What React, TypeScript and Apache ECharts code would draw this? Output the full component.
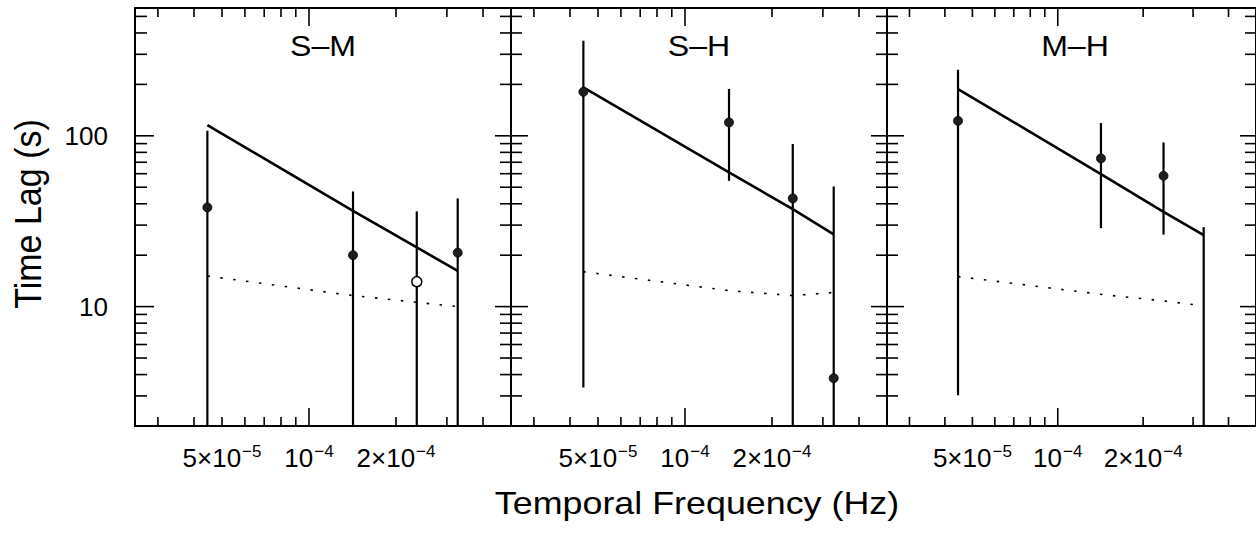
import React, { useEffect, useRef } from "react";
import * as echarts from "echarts";

// ---------- data ----------
const FREQ = [4.45e-5, 1.42e-4, 2.36e-4, 3.27e-4]; // Hz

const PANEL_NAMES = ["S–M", "S–H", "M–H"];

// S–M
const SM_LAG = [38.1, 20.0, 14.0, 20.7];
const SM_OPEN = [false, false, true, false];
const SM_LO = [1, 1, 1, 1]; // lower ends fall below the axis
const SM_HI = [107, 47.2, 36.1, 43.0];
const SM_MODEL = [115.5, 36.4, 22.2, 16.2];
const SM_DOT = [15.1, 11.6, 10.6, 10.0];

// S–H
const SH_LAG = [181, 119.8, 43.0, 3.81];
const SH_OPEN = [false, false, false, false];
const SH_LO = [3.36, 54.5, 1, 1];
const SH_HI = [360, 188, 89.4, 50.5];
const SH_MODEL = [192, 61.1, 37.2, 26.5];
const SH_DOT = [16.0, 12.4, 11.6, 12.1];

// M–H
const MH_LAG = [122.4, 73.7, 58.3, null];
const MH_OPEN = [false, false, false, false];
const MH_LO = [3.03, 28.8, 26.4, 1];
const MH_HI = [244, 118.7, 91.4, 29.2];
const MH_MODEL = [187.8, 59.7, 35.9, 26.2];
const MH_DOT = [15.0, 11.8, 10.8, 10.1];

// axes
const X_MIN = 2.5e-5;
const X_MAX = 5e-4;
const Y_MIN = 2;
const Y_MAX = 560;
const X_LABEL_VALUES = [5e-5, 1e-4, 2e-4];
const X_LABEL_MANT = ["5×10", "10", "2×10"];
const X_LABEL_EXP = ["−5", "−4", "−4"];
const Y_LABEL_VALUES = [10, 100];
const X_MINOR_TICKS = [3e-5, 4e-5, 5e-5, 6e-5, 7e-5, 8e-5, 9e-5, 2e-4, 3e-4, 4e-4];
const X_MAJOR_TICKS = [1e-4];
const Y_MINOR_TICKS = [3, 4, 5, 6, 7, 8, 9, 20, 30, 40, 50, 60, 70, 80, 90, 200, 300, 400, 500];
const Y_MAJOR_TICKS = [10, 100];

const PANELS = [
  { lag: SM_LAG, open: SM_OPEN, lo: SM_LO, hi: SM_HI, model: SM_MODEL, dot: SM_DOT },
  { lag: SH_LAG, open: SH_OPEN, lo: SH_LO, hi: SH_HI, model: SH_MODEL, dot: SH_DOT },
  { lag: MH_LAG, open: MH_OPEN, lo: MH_LO, hi: MH_HI, model: MH_MODEL, dot: MH_DOT },
];

const FONT = '"Liberation Sans", Arial, Helvetica, sans-serif';
const GRID_LEFT = 135;
const GRID_W = 376;
const GRID_TOP = 8;
const GRID_H = 418;

function buildOption() {
  const grid: any[] = [];
  const xAxis: any[] = [];
  const yAxis: any[] = [];
  const series: any[] = [];
  const graphic: any[] = [];

  PANELS.forEach((p, i) => {
    grid.push({
      left: GRID_LEFT + GRID_W * i,
      top: GRID_TOP,
      width: GRID_W + (i === 2 ? 1 : 0),
      height: GRID_H,
      show: true,
      borderColor: "#000",
      borderWidth: 2,
      backgroundColor: "transparent",
    });
    xAxis.push({
      type: "log",
      logBase: 10,
      gridIndex: i,
      min: X_MIN,
      max: X_MAX,
      axisLine: { show: false },
      axisTick: { show: false },
      splitLine: { show: false },
      axisLabel: {
        show: true,
        customValues: X_LABEL_VALUES,
        margin: 17,
        formatter: (v: number) => {
          const k = X_LABEL_VALUES.findIndex((x) => Math.abs(x - v) / x < 1e-4);
          if (k < 0) return "";
          return `{b|${X_LABEL_MANT[k]}}{s|${X_LABEL_EXP[k]}}`;
        },
        rich: {
          b: { fontSize: 26, fontFamily: FONT, color: "#000", lineHeight: 30 },
          s: { fontSize: 17, fontFamily: FONT, color: "#000", lineHeight: 18, verticalAlign: "top", padding: [0, 0, 0, 1] },
        },
      },
    });
    yAxis.push({
      type: "log",
      logBase: 10,
      gridIndex: i,
      min: Y_MIN,
      max: Y_MAX,
      axisLine: { show: false },
      axisTick: { show: false },
      splitLine: { show: false },
      axisLabel: {
        show: i === 0,
        customValues: Y_LABEL_VALUES,
        margin: 27,
        fontSize: 26,
        fontFamily: FONT,
        color: "#000",
        formatter: (v: number) => String(Math.round(v)),
      },
    });

    // x tick marks (bottom & top)
    series.push({
      type: "custom",
      xAxisIndex: i,
      yAxisIndex: i,
      silent: true,
      z: 5,
      data: [
        ...X_MINOR_TICKS.map((v) => [v, Y_MIN, 0]),
        ...X_MAJOR_TICKS.map((v) => [v, Y_MIN, 1]),
      ],
      encode: { x: 0, y: 1 },
      renderItem: (params: any, api: any) => {
        const cs = params.coordSys;
        const pt = api.coord([api.value(0), Y_MIN]);
        const len = api.value(2) ? 18 : 9;
        const st = { stroke: "#000", lineWidth: 1.6 };
        return {
          type: "group",
          children: [
            { type: "line", shape: { x1: pt[0], y1: cs.y + cs.height, x2: pt[0], y2: cs.y + cs.height - len }, style: st },
            { type: "line", shape: { x1: pt[0], y1: cs.y, x2: pt[0], y2: cs.y + len }, style: st },
          ],
        };
      },
    });
    // y tick marks (left & right)
    series.push({
      type: "custom",
      xAxisIndex: i,
      yAxisIndex: i,
      silent: true,
      z: 5,
      data: [
        ...Y_MINOR_TICKS.map((v) => [X_MIN, v, 0]),
        ...Y_MAJOR_TICKS.map((v) => [X_MIN, v, 1]),
      ],
      encode: { x: 0, y: 1 },
      renderItem: (params: any, api: any) => {
        const cs = params.coordSys;
        const pt = api.coord([X_MIN, api.value(1)]);
        const major = api.value(2);
        const lenL = major ? (i === 0 ? 19 : 17) : (i === 0 ? 12 : 11);
        const lenR = major ? 16 : 11;
        const st = { stroke: "#000", lineWidth: 1.6 };
        return {
          type: "group",
          children: [
            { type: "line", shape: { x1: cs.x, y1: pt[1], x2: cs.x + lenL, y2: pt[1] }, style: st },
            { type: "line", shape: { x1: cs.x + cs.width, y1: pt[1], x2: cs.x + cs.width - lenR, y2: pt[1] }, style: st },
          ],
        };
      },
    });
    // error bars
    series.push({
      type: "custom",
      xAxisIndex: i,
      yAxisIndex: i,
      silent: true,
      z: 3,
      data: FREQ.map((f, k) => [f, p.lo[k], p.hi[k]]),
      encode: { x: 0, y: [1, 2] },
      renderItem: (params: any, api: any) => {
        const f = api.value(0);
        const lo = Math.max(api.value(1), Y_MIN);
        const hi = Math.min(api.value(2), Y_MAX);
        const a = api.coord([f, lo]);
        const b = api.coord([f, hi]);
        return {
          type: "line",
          shape: { x1: a[0], y1: a[1], x2: b[0], y2: b[1] },
          style: { stroke: "#000", lineWidth: 2.2 },
        };
      },
    });
    // model (solid)
    series.push({
      type: "line",
      xAxisIndex: i,
      yAxisIndex: i,
      silent: true,
      z: 4,
      showSymbol: false,
      symbol: "none",
      data: FREQ.map((f, k) => [f, p.model[k]]),
      lineStyle: { color: "#000", width: 2.6 },
    });
    // model (dotted)
    series.push({
      type: "line",
      xAxisIndex: i,
      yAxisIndex: i,
      silent: true,
      z: 4,
      showSymbol: false,
      symbol: "none",
      data: FREQ.map((f, k) => [f, p.dot[k]]),
      lineStyle: { color: "#000", width: 1.6, type: [2.5, 10.5] },
    });
    // filled markers
    series.push({
      type: "scatter",
      xAxisIndex: i,
      yAxisIndex: i,
      silent: true,
      z: 6,
      symbol: "circle",
      symbolSize: 9,
      itemStyle: { color: "#1e1e1e", borderColor: "#000", borderWidth: 0.8, opacity: 1 },
      data: FREQ.map((f, k) => [f, p.lag[k], p.open[k]]).filter((d) => d[1] != null && !d[2]).map((d) => [d[0], d[1]]),
    });
    // open markers
    series.push({
      type: "scatter",
      xAxisIndex: i,
      yAxisIndex: i,
      silent: true,
      z: 6,
      symbol: "circle",
      symbolSize: 10,
      itemStyle: { color: "#fff", borderColor: "#000", borderWidth: 1.5, opacity: 1 },
      data: FREQ.map((f, k) => [f, p.lag[k], p.open[k]]).filter((d) => d[1] != null && d[2]).map((d) => [d[0], d[1]]),
    });

    graphic.push({
      type: "text",
      x: GRID_LEFT + GRID_W * i + GRID_W / 2,
      y: 46,
      scaleX: 1.07,
      silent: true,
      style: {
        text: PANEL_NAMES[i],
        font: `30px ${FONT}`,
        fill: "#000",
        align: "center",
        verticalAlign: "middle",
        textAlign: "center",
        textVerticalAlign: "middle",
      },
    });
  });

  graphic.push({
    type: "text",
    x: 28,
    y: 214,
    rotation: Math.PI / 2,
    scaleY: 1.1,
    silent: true,
    style: {
      text: "Time Lag (s)",
      font: `34px ${FONT}`,
      fill: "#000",
      align: "center",
      verticalAlign: "middle",
      textAlign: "center",
      textVerticalAlign: "middle",
    },
  });
  graphic.push({
    type: "text",
    x: 697,
    y: 503,
    scaleX: 1.12,
    silent: true,
    style: {
      text: "Temporal Frequency (Hz)",
      font: `32px ${FONT}`,
      fill: "#000",
      align: "center",
      verticalAlign: "middle",
      textAlign: "center",
      textVerticalAlign: "middle",
    },
  });

  return {
    animation: false,
    backgroundColor: "#fff",
    grid,
    xAxis,
    yAxis,
    series,
    graphic,
  };
}

export default function App() {
  const ref = useRef<HTMLDivElement>(null);
  useEffect(() => {
    if (!ref.current) return;
    const chart = echarts.init(ref.current, null, { renderer: "svg" });
    chart.setOption(buildOption() as any);
    return () => chart.dispose();
  }, []);
  return (
    <div
      ref={ref}
      style={{ position: "absolute", left: 0, top: 0, width: 1256, height: 533, background: "#fff" }}
    />
  );
}
